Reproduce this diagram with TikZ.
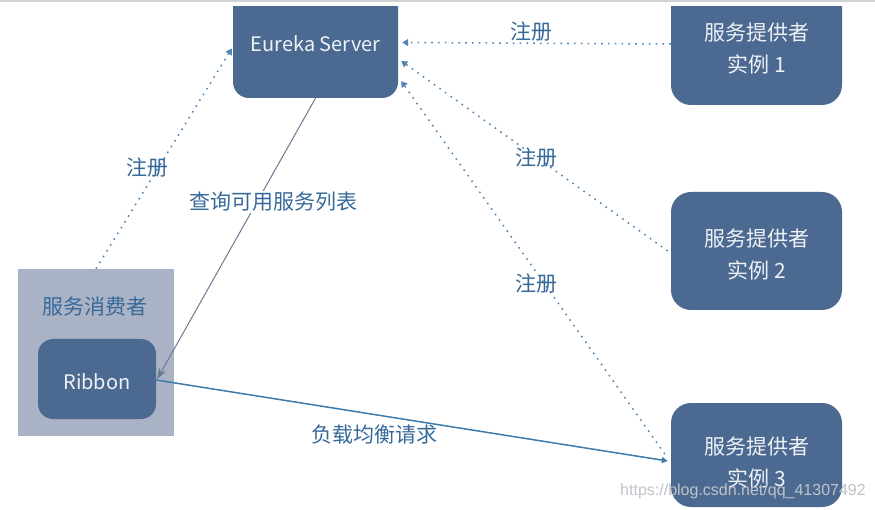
\documentclass[tikz,border=0pt]{standalone}
\usepackage{fontspec}
\setmainfont{Noto Sans CJK SC}
\newfontfamily\wmfont{Liberation Sans}
\usetikzlibrary{arrows.meta}
\definecolor{boxc}{HTML}{4C6A91}
\definecolor{boxtxt}{HTML}{EEF1F5}
\definecolor{consc}{HTML}{AAB3C5}
\definecolor{labc}{HTML}{36699A}
\definecolor{dotc}{HTML}{5285B5}
\definecolor{greyc}{HTML}{6A7A90}
\definecolor{bluec}{HTML}{3E7BAB}
\definecolor{wmc}{HTML}{BFC3C8}
\begin{document}
\begin{tikzpicture}[x=1pt,y=-1pt,
  box/.style={fill=boxc, draw=none, inner sep=0pt},
  wtxt/.style={text=boxtxt, font=\fontsize{20}{32}\selectfont, align=center, inner sep=0pt},
  ctxt/.style={text=boxtxt, font=\fontsize{21}{32}\selectfont, align=center, inner sep=0pt},
  lab/.style={text=labc, font=\fontsize{21}{26}\selectfont, inner sep=1pt},
  dotarrow/.style={draw=dotc, line width=1.5pt, dash pattern=on 1.6pt off 5.2pt,
    -{Triangle[width=7pt,length=6pt]}},
  greyarrow/.style={draw=greyc, line width=1pt, -{Stealth[width=8pt,length=11pt]}},
  bluearrow/.style={draw=bluec, line width=1.5pt, -{Triangle[width=6pt,length=6pt]}}
]
\useasboundingbox (0,0) rectangle (875,510);
\fill[white] (0,0) rectangle (875,510);
\fill[gray!35] (0,0) rectangle (875,2);

% boxes
\begin{scope}
  \clip (0,7) rectangle (875,510);
  \node[box, minimum width=165pt, minimum height=111pt, rounded corners=16pt] (eu) at (315.5,42.5) {};
  \node[box, minimum width=171pt, minimum height=118pt, rounded corners=20pt] (p1) at (756.5,46) {};
\end{scope}
\node[box, minimum width=171pt, minimum height=118pt, rounded corners=20pt] (p2) at (756.5,251) {};
\node[box, minimum width=171pt, minimum height=104pt, rounded corners=20pt] (p3) at (756.5,455) {};
\node[fill=consc, draw=none, inner sep=0pt, minimum width=156pt, minimum height=167pt] (cons) at (96,352.5) {};
\node[box, minimum width=118pt, minimum height=80pt, rounded corners=15pt] (rib) at (97,379) {};

% box texts
\node[wtxt] (eut) at (315.5,44) {Eureka Server};
\node[ctxt] (p1t) at (756.5,49) {服务提供者\\实例 1};
\node[ctxt] (p2t) at (756.5,255) {服务提供者\\实例 2};
\node[ctxt] (p3t) at (756.5,463) {服务提供者\\实例 3};
\node[wtxt] (ribt) at (97,382) {Ribbon};
\node[lab, text=labc] (const) at (95,307) {服务消费者};

% connectors
\draw[dotarrow] ([yshift=2pt]p1.west) -- ([xshift=4pt]eu.east);
\draw[dotarrow] ([xshift=-3pt]p2.west) -- ([xshift=3pt,yshift=-18.5pt]eu.east);
\draw[dotarrow] ([xshift=-6pt,yshift=1pt]p3.west) -- ([xshift=3pt,yshift=-38.5pt]eu.east);
\draw[dotarrow] (cons.north) -- ([xshift=-1pt,yshift=-6pt]eu.west);
\draw[greyarrow] (eu.south) -- ([xshift=1pt]rib.east);
\draw[bluearrow] ([yshift=-1pt]rib.east) -- ([xshift=-3pt,yshift=-6pt]p3.west);

% labels
\node[lab] (l1) at (531,32) {注册};
\node[lab] (l2) at (536,158) {注册};
\node[lab] (l3) at (536,284) {注册};
\node[lab] (l4) at (147,168) {注册};
\node[lab, fill=white] (lq) at (273,202) {查询可用服务列表};
\node[lab] (lb) at (374,435) {负载均衡请求};

% watermark
\node[text=wmc, font=\wmfont\fontsize{16}{18}\selectfont, inner sep=0pt] (wm) at (743,491) {https://blog.csdn.net/qq\_41307492};
\end{tikzpicture}
\end{document}
